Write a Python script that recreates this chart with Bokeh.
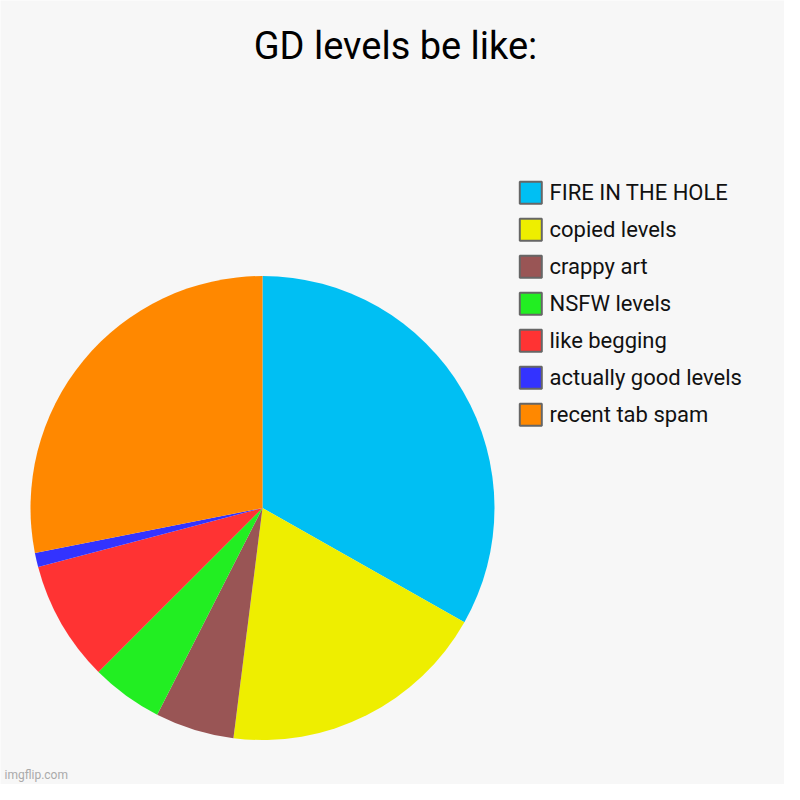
import numpy as np
from bokeh.plotting import figure
from bokeh.models import Range1d, ColumnDataSource
from bokeh.core.properties import value
from bokeh.embed import file_html
from bokeh.resources import INLINE

title = "GD levels be like:"
labels = ["FIRE IN THE HOLE", "copied levels", "crappy art", "NSFW levels",
          "like begging", "actually good levels", "recent tab spam"]
values = [33.2, 18.8, 5.5, 5.0, 8.4, 1.0, 28.1]
colors = ["#00bff3", "#eeee00", "#995555", "#22ee22", "#ff3333", "#3333ff", "#ff8800"]
watermark = "imgflip.com"

BG = "#f7f7f7"
FONT = value("Roboto")
W = H = 784
# data coords: x = picture px, y = H - picture px
p = figure(width=W, height=H, x_range=Range1d(0, W), y_range=Range1d(0, H),
           x_axis_type=None, y_axis_type=None, toolbar_location=None,
           output_backend="svg", min_border=0, background_fill_color=BG,
           border_fill_color=BG, outline_line_color=None)
p.grid.visible = False

vals = np.array(values, dtype=float)
frac = vals / vals.sum()
cum = np.concatenate([[0.0], np.cumsum(frac)])
start = np.pi / 2 - 2 * np.pi * cum[:-1]
end = np.pi / 2 - 2 * np.pi * cum[1:]
cx, cy, r = 262, H - 507.5, 232
src = ColumnDataSource(dict(start=start, end=end, color=colors, label=labels))
p.wedge(x=cx, y=cy, radius=r, start_angle="start", end_angle="end",
        direction="clock", fill_color="color", line_color=None, source=src)

# legend
row0, step = 192.3, 37
rows = [H - (row0 + step * i) for i in range(len(labels))]
leg = ColumnDataSource(dict(y=rows, ty=[y for y in rows], color=colors, label=labels))
p.rect(x=530.3, y="y", width=22, height=22, fill_color="color",
       line_color="#666666", line_width=2, source=leg)
p.text(x=549, y="ty", text="label", text_font=FONT, text_font_size="22px",
       text_color="#111111", text_baseline="alphabetic", text_align="left", source=leg)

# title
p.text(x=[395], y=[H - 45], text=[title], text_font=FONT, text_font_size="38px",
       text_color="#000000", text_align="center", text_baseline="alphabetic")

# watermark
p.text(x=[4], y=[H - 774], text=[watermark], text_font=FONT, text_font_size="12px",
       text_color="#aaaaaa", text_align="left", text_baseline="alphabetic")

open("out.html", "w").write(file_html(p, INLINE))
